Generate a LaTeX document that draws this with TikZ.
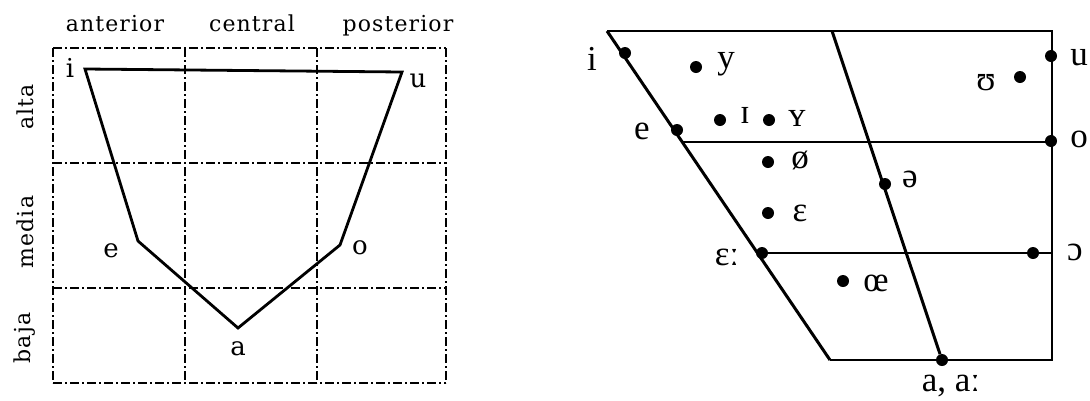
\documentclass[tikz,border=0pt]{standalone}
\usepackage{fontspec}
\setmainfont{Liberation Serif}
\newfontfamily\gridfont[LetterSpace=5]{DejaVu Serif}
\newfontfamily\vowelfont{DejaVu Serif}
\usetikzlibrary{positioning}

\begin{document}
\begin{tikzpicture}[x=1pt,y=-1pt,
  gridline/.style={line width=1.6pt,dash pattern=on 9pt off 3pt on 2pt off 3pt},
  vline/.style={line width=2.8pt,line join=miter},
  frame/.style={line width=2pt},
  slant/.style={line width=3pt},
  vdot/.style={circle,fill,inner sep=0pt,minimum size=12pt},
  gtext/.style={font=\gridfont\fontsize{22}{26}\selectfont,inner sep=0pt,anchor=base},
  vtext/.style={font=\vowelfont\fontsize{26}{30}\selectfont,inner sep=0pt,anchor=base},
  ipa/.style={font=\fontsize{35}{40}\selectfont,inner sep=0pt,anchor=base}]
\useasboundingbox (0,0) rectangle (1090,400);
% left chart
\foreach \x in {53,185,317,446} \draw[gridline] (\x,48) -- (\x,383);
\foreach \y in {48,163,288,383} \draw[gridline] (53,\y) -- (446,\y);
\node[gtext] (hant) at (115,31) {anterior};
\node[gtext] (hcen) at (252,31) {central};
\node[gtext] (hpos) at (398,31) {posterior};
\node[gtext,rotate=90,anchor=center] (halta) at (25,107) {alta};
\node[gtext,rotate=90,anchor=center] (hmed) at (25,232) {media};
\node[gtext,rotate=90,anchor=center] (hbaj) at (25,338) {baja};
\coordinate (vi) at (85,69);
\coordinate (vu) at (402,72);
\coordinate (vo) at (340,245);
\coordinate (va) at (238,328);
\coordinate (ve) at (138,241);
\draw[vline] (vi) -- (vu) -- (vo) -- (va) -- (ve) -- cycle;
\node[vtext] (li) at (70,77) {i};
\node[vtext] (lu) at (418,87) {u};
\node[vtext] (le) at (111,257) {e};
\node[vtext] (lo) at (360,254) {o};
\node[vtext] (la) at (238,355) {a};
% right chart
\coordinate (tl) at (607,31);
\coordinate (tm) at (832,31);
\coordinate (tr) at (1052,31);
\coordinate (bl) at (830,360);
\coordinate (br) at (1052,360);
\coordinate (hel) at (682,142);
\coordinate (her) at (1052,142);
\coordinate (hol) at (757,253);
\coordinate (hor) at (1052,253);
\draw[frame] (tl) -- (tr) -- (br) -- (bl);
\draw[frame] (hel) -- (her);
\draw[frame] (hol) -- (hor);
\node[vdot] (di) at (625,53) {};
\node[vdot] (dy) at (696,67) {};
\node[vdot] (du) at (1051,56) {};
\node[vdot] (dU) at (1020,77) {};
\node[vdot] (de) at (677,130) {};
\node[vdot] (dI) at (720,120) {};
\node[vdot] (dY) at (769,120) {};
\node[vdot] (do) at (1051,141) {};
\node[vdot] (doslash) at (768,162) {};
\node[vdot] (dschwa) at (885,184) {};
\node[vdot] (deps) at (768,213) {};
\node[vdot] (depsl) at (762,253) {};
\node[vdot] (dopen) at (1033,253) {};
\node[vdot] (doe) at (843,281) {};
\node[vdot] (da) at (942,360) {};
\draw[slant] (tl) -- (bl);
\draw[slant] (tm) -- (da);
\node[ipa] (ti) at (592,70) {i};
\node[ipa] (ty) at (726,68) {y};
\node[ipa] (tu) at (1079,65) {u};
\node[ipa] (tU) at (986,90) {ʊ};
\node[ipa] (te) at (642,139) {e};
\node[ipa] (tI) at (745,123) {ɪ};
\node[ipa] (tY) at (797,126) {ʏ};
\node[ipa] (to) at (1079,147) {o};
\node[ipa] (toslash) at (800,168) {ø};
\node[ipa] (tschwa) at (910,187) {ə};
\node[ipa] (teps) at (800,221) {ɛ};
\node[ipa] (tepsl) at (727,265) {ɛː};
\node[ipa] (topen) at (1075,260) {ɔ};
\node[ipa] (toe) at (876,291) {œ};
\node[ipa] (ta) at (951,391) {a, aː};
\end{tikzpicture}
\end{document}
